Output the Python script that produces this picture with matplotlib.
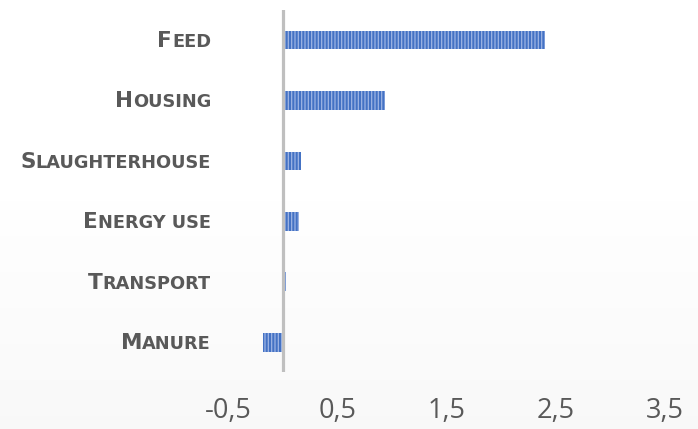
import matplotlib.pyplot as plt
import numpy as np

# data (bottom to top as drawn)
categories = ["Manure", "Transport", "Energy use", "Slaughterhouse", "Housing", "Feed"]
values = [-0.18, 0.03, 0.15, 0.17, 0.94, 2.40]
xticks = [-0.5, 0.5, 1.5, 2.5, 3.5]
xtick_labels = ["-0,5", "0,5", "1,5", "2,5", "3,5"]

plt.rcParams['hatch.linewidth'] = 0.9

fig = plt.figure(figsize=(6.98, 4.29), dpi=100)

# faint gradient in the lower part of the background
bg = fig.add_axes([0, 0, 1, 1], zorder=-10)
grad = np.ones((429, 1))
rows = np.arange(429)
grad[:, 0] = np.clip((rows - 200) / 229.0, 0, 1)
cols = 1 - 0.025 * grad
bg.imshow(np.dstack([cols, cols, cols]), aspect='auto', extent=[0, 1, 0, 1], origin='upper')
bg.axis('off')

ax = fig.add_axes([0.327, 0.132, 0.625, 0.845])
ax.patch.set_alpha(0)

y = np.arange(len(categories))
ax.barh(y, values, height=0.31, color='#4472C4', edgecolor='#9DB4E4',
        linewidth=0, hatch='|||||', zorder=2)
ax.axvline(0, color='#BFBFBF', linewidth=2.3, zorder=3)

ax.set_xlim(-0.5, 3.5)
ax.set_ylim(-0.5, len(categories) - 0.5)
ax.set_xticks(xticks)
ax.set_xticklabels(xtick_labels, fontsize=19.5, color='#595959', family='Open Sans')
ax.tick_params(axis='x', length=0, pad=17.5)
ax.set_yticks([])
for s in ax.spines.values():
    s.set_visible(False)

# small caps category labels
fig.canvas.draw()
r = fig.canvas.get_renderer()
x_right = 211 / 698
off = -7 / fig.bbox.height
for yi, name in zip(y, categories):
    yf = ax.transData.transform((0, yi))[1] / fig.bbox.height + off
    rest = fig.text(x_right, yf, name[1:].upper(), ha='right', va='baseline',
                    fontsize=12.8, fontweight='bold', color='#595959',
                    family='DejaVu Sans')
    bb = rest.get_window_extent(renderer=r)
    fig.text(bb.x0 / fig.bbox.width, yf, name[0].upper(), ha='right',
             va='baseline', fontsize=15.5, fontweight='bold', color='#595959',
             family='DejaVu Sans')

fig.savefig('out.png', dpi=100)
